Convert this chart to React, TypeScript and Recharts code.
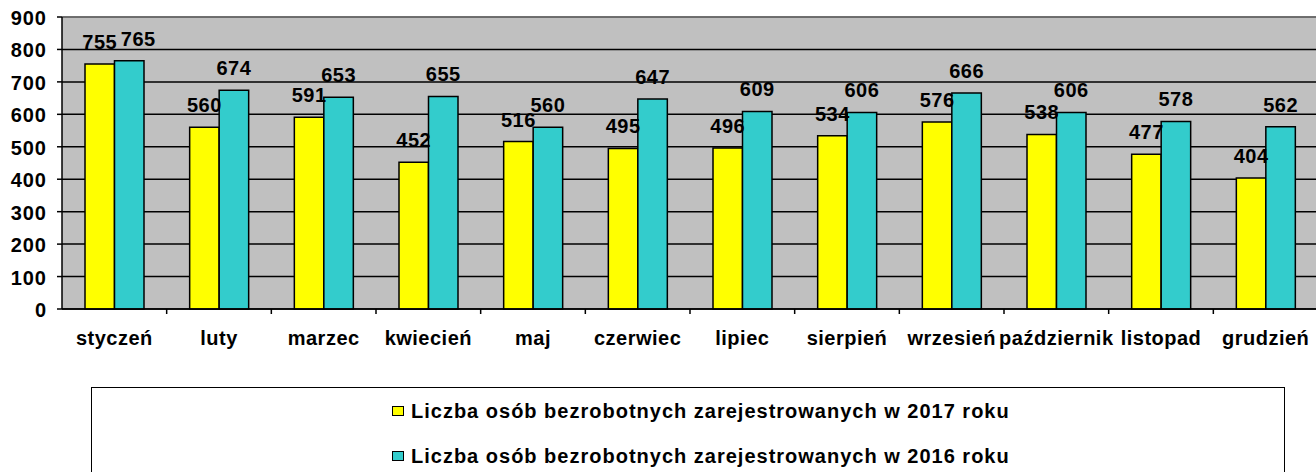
import { BarChart, Bar, XAxis, YAxis, CartesianGrid, Legend, LabelList, ReferenceLine } from "recharts";

const months = [
  "styczeń", "luty", "marzec", "kwiecień", "maj", "czerwiec",
  "lipiec", "sierpień", "wrzesień", "październik", "listopad", "grudzień",
];
const unemployed2017 = [755, 560, 591, 452, 516, 495, 496, 534, 576, 538, 477, 404];
const unemployed2016 = [765, 674, 653, 655, 560, 647, 609, 606, 666, 606, 578, 562];
const yTicks = [0, 100, 200, 300, 400, 500, 600, 700, 800, 900];

const series = [
  { key: "y2017", name: "Liczba osób bezrobotnych zarejestrowanych w 2017 roku", color: "#FFFF00" },
  { key: "y2016", name: "Liczba osób bezrobotnych zarejestrowanych w 2016 roku", color: "#33CCCC" },
];

const data = months.map((month, i) => ({
  month,
  y2017: unemployed2017[i],
  y2016: unemployed2016[i],
}));

const FONT = "'Liberation Sans', Arial, Helvetica, sans-serif";
const textStyle = { fontFamily: FONT, fontWeight: 700, fontSize: 20, fill: "#000" };

function MonthTick({ x, y, payload }: any) {
  const half = payload?.offset ?? 0;
  return (
    <g>
      <line x1={x + half} x2={x + half} y1={y - 5} y2={y} stroke="#000" strokeWidth={1.5} />
      <text x={x} y={y + 31} textAnchor="middle" letterSpacing={0.5} {...textStyle}>
        {payload.value}
      </text>
    </g>
  );
}

function ValueTick({ x, y, payload }: any) {
  return (
    <text x={x} y={y} dy={8} textAnchor="end" letterSpacing={1} {...textStyle}>
      {payload.value}
    </text>
  );
}

// value label above a bar; the 2016 label moves right a bit when the 2017 one sits at the same height
function ValueLabel({ x, y, width, value, index, dataKey }: any) {
  let shift = 0;
  if (dataKey === "y2016" && Math.abs(unemployed2016[index] - unemployed2017[index]) < 30) shift = 9;
  return (
    <text x={x + width / 2 + shift} y={y - 15} textAnchor="middle" letterSpacing={0.5} {...textStyle}>
      {value}
    </text>
  );
}

// legend rows follow the series order (2017 first)
function LegendBox() {
  return (
    <div
      style={{
        boxSizing: "border-box",
        width: "100%",
        height: "100%",
        border: "1.5px solid #000",
        background: "#fff",
        paddingTop: 12,
        paddingLeft: 300,
        fontFamily: FONT,
      }}
    >
      {series.map((s) => (
        <div key={s.key} style={{ display: "flex", alignItems: "center", height: 22, marginBottom: 23 }}>
          <span
            style={{
              display: "inline-block",
              boxSizing: "border-box",
              width: 12,
              height: 10,
              border: "1.5px solid #000",
              background: s.color,
              marginRight: 7,
            }}
          />
          <span style={{ fontWeight: 700, fontSize: 20, letterSpacing: 1, color: "#000", lineHeight: "22px" }}>
            {s.name}
          </span>
        </div>
      ))}
    </div>
  );
}

export default function App() {
  return (
    <div
      style={{
        position: "fixed",
        left: 0,
        top: 0,
        width: 1316,
        height: 472,
        overflow: "hidden",
        background: "#fff",
      }}
    >
      <BarChart
        width={1318}
        height={472}
        data={data}
        margin={{ top: 17, right: 0, bottom: 0, left: 0 }}
        barGap={0}
        barSize={29.5}
      >
        <CartesianGrid vertical={false} fill="#C0C0C0" stroke="#000" strokeWidth={1.5} />
        <XAxis
          dataKey="month"
          height={163}
          interval={0}
          axisLine={{ stroke: "#000", strokeWidth: 1.5 }}
          tickLine={false}
          tickSize={5}
          tickMargin={0}
          tick={<MonthTick />}
        />
        <YAxis
          width={62}
          domain={[0, 900]}
          ticks={yTicks}
          interval={0}
          axisLine={{ stroke: "#000", strokeWidth: 1.5 }}
          tickLine={{ stroke: "#000", strokeWidth: 1.5 }}
          tickSize={5}
          tickMargin={10}
          tick={<ValueTick />}
        />
        <ReferenceLine y={900} stroke="#808080" strokeWidth={1.5} />
        <Legend
          layout="horizontal"
          verticalAlign="middle"
          align="center"
          wrapperStyle={{ left: 91, top: 387, width: 1194, height: 100 }}
          content={<LegendBox />}
        />
        {series.map((s) => (
          <Bar
            key={s.key}
            dataKey={s.key}
            name={s.name}
            fill={s.color}
            stroke="#000"
            strokeWidth={1.5}
            isAnimationActive={false}
          >
            <LabelList dataKey={s.key} content={(props: any) => <ValueLabel {...props} dataKey={s.key} />} />
          </Bar>
        ))}
      </BarChart>
    </div>
  );
}
